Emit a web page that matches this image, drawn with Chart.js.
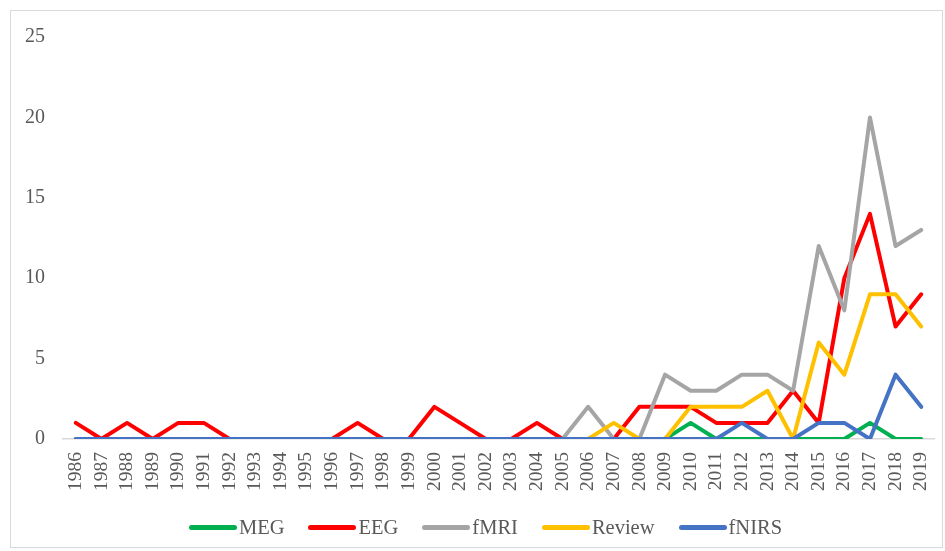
<!DOCTYPE html>
<html>
<head>
<meta charset="utf-8">
<script src="https://cdn.jsdelivr.net/npm/chart.js@4.4.1/dist/chart.umd.min.js"></script>
<style>
  html, body { margin: 0; padding: 0; background: #fff; }
  #wrap { position: relative; width: 945px; height: 551px; }
  #legend { position: absolute; left: 13px; top: 516px; width: 945px; display: flex; justify-content: center; align-items: center;
            font-family: "Liberation Serif", "Times New Roman", serif; font-size: 20.5px; color: #595959; }
  .item { display: flex; align-items: center; margin: 0 12px; }
  .swatch { width: 48px; height: 5px; border-radius: 3px; margin-right: 2px; }
</style>
</head>
<body>
<div id="wrap">
  <canvas id="c" width="945" height="551"></canvas>
  <div id="legend"></div>
</div>
<script>
const years = ["1986","1987","1988","1989","1990","1991","1992","1993","1994","1995","1996","1997","1998","1999","2000","2001","2002","2003","2004","2005","2006","2007","2008","2009","2010","2011","2012","2013","2014","2015","2016","2017","2018","2019"];
const seriesNames = ["MEG","EEG","fMRI","Review","fNIRS"];
const megValues    = [0,0,0,0,0,0,0,0,0,0,0,0,0,0,0,0,0,0,0,0,0,0,0,0,1,0,0,0,0,0,0,1,0,0];
const eegValues    = [1,0,1,0,1,1,0,0,0,0,0,1,0,0,2,1,0,0,1,0,0,0,2,2,2,1,1,1,3,1,10,14,7,9];
const fmriValues   = [0,0,0,0,0,0,0,0,0,0,0,0,0,0,0,0,0,0,0,0,2,0,0,4,3,3,4,4,3,12,8,20,12,13];
const reviewValues = [0,0,0,0,0,0,0,0,0,0,0,0,0,0,0,0,0,0,0,0,0,1,0,0,2,2,2,3,0,6,4,9,9,7];
const fnirsValues  = [0,0,0,0,0,0,0,0,0,0,0,0,0,0,0,0,0,0,0,0,0,0,0,0,0,0,1,0,0,1,1,0,4,2];
const yTicks = [0,5,10,15,20,25];

const colors = ["#00B050","#FF0000","#A5A5A5","#FFC000","#4472C4"];
const allValues = [megValues, eegValues, fmriValues, reviewValues, fnirsValues];

const datasets = seriesNames.map((name, i) => ({
  label: name,
  data: allValues[i],
  borderColor: colors[i],
  backgroundColor: colors[i],
  borderWidth: 4,
  pointRadius: 0,
  pointHoverRadius: 0,
  tension: 0,
  fill: false,
  borderJoinStyle: 'round',
  borderCapStyle: 'round',
  order: seriesNames.length - i
}));

const borderPlugin = {
  id: 'outerBorder',
  beforeDraw(chart) {
    const ctx = chart.ctx;
    ctx.save();
    ctx.fillStyle = '#fff';
    ctx.fillRect(0, 0, chart.width, chart.height);
    ctx.strokeStyle = '#d9d9d9';
    ctx.lineWidth = 1;
    ctx.strokeRect(10.5, 10.5, 932, 537);
    ctx.restore();
  }
};

const serif = "'Liberation Serif', 'Times New Roman', serif";

new Chart(document.getElementById('c'), {
  type: 'line',
  data: { labels: years, datasets },
  options: {
    responsive: false,
    animation: false,
    events: [],
    layout: { padding: { left: 11, right: 11, top: 37, bottom: 50 } },
    plugins: { legend: { display: false }, tooltip: { enabled: false } },
    scales: {
      x: {
        offset: true,
        grid: { display: false, drawTicks: false },
        border: { display: true, color: '#d9d9d9', width: 1.5 },
        ticks: {
          autoSkip: false, maxRotation: 90, minRotation: 90, padding: 13,
          color: '#595959', font: { family: serif, size: 19.5 }
        },
        afterFit(scale) { scale.height = 551 - 50 - 439; scale.paddingLeft = 0; scale.paddingRight = 0; }
      },
      y: {
        min: 0, max: 25,
        afterBuildTicks(scale) { scale.ticks = yTicks.map(v => ({ value: v })); },
        grid: { display: false, drawTicks: false },
        border: { display: false },
        ticks: { padding: 18, color: '#595959', font: { family: serif, size: 20 } },
        afterFit(scale) { scale.width = 52; scale.paddingTop = 0; scale.paddingBottom = 0; }
      }
    }
  },
  plugins: [borderPlugin]
});

const legend = document.getElementById('legend');
seriesNames.forEach((name, i) => {
  const item = document.createElement('div');
  item.className = 'item';
  const sw = document.createElement('span');
  sw.className = 'swatch';
  sw.style.background = colors[i];
  const tx = document.createElement('span');
  tx.textContent = name;
  item.appendChild(sw);
  item.appendChild(tx);
  legend.appendChild(item);
});
</script>
</body>
</html>
